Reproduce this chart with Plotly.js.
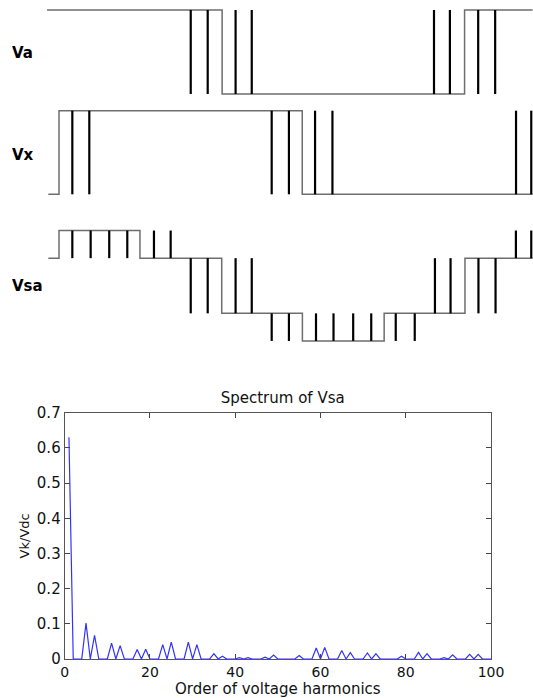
<!DOCTYPE html>
<html>
<head>
<meta charset="utf-8">
<script src="https://cdn.plot.ly/plotly-3.0.1.min.js"></script>
<style>html,body{margin:0;padding:0;background:#fff;}#chart{width:533px;height:698px;}</style>
</head>
<body>
<div id="chart"></div>
<script>
// ---- Switching waveforms (angle in degrees, levels) ----
// Va : two-level, 0 / 1
const vaStepX = [0, 130, 310, 360.5];
const vaStepY = [1, 0, 1, 1];
const vaPulseX = [106.7, 119.3, 140, 152, 287.3, 299.1, 320.1, 332.7];
const vaPulseFrom = [1, 1, 0, 0, 0, 0, 1, 1];
const vaPulseTo = [0, 0, 1, 1, 1, 1, 0, 0];

// Vx : two-level, 0 / 1
const vxStepX = [1, 8.9, 189.5, 360.5];
const vxStepY = [0, 1, 0, 0];
const vxPulseX = [18.8, 31.4, 166.8, 179.6, 199, 211.9, 348.2, 359.5];
const vxPulseFrom = [1, 1, 1, 1, 0, 0, 0, 0];
const vxPulseTo = [0, 0, 0, 0, 1, 1, 1, 1];

// Vsa : levels in units of Vdc/3
const vsaStepX = [1, 8.9, 69, 129.7, 189.6, 250.3, 310.3, 360.5];
const vsaStepY = [1, 2, 1, -1, -2, -1, 1, 1];
const vsaPulseX = [18.8, 32.4, 46.2, 59.6, 79.4, 91.8, 106.7, 119.3, 140, 152,
                   166.8, 179.6, 199.7, 212.7, 227.3, 240.7, 258.9, 273, 288, 299.6,
                   320.3, 333, 348.1, 359.5];
const vsaPulseFrom = [2, 2, 2, 2, 1, 1, 1, 1, -1, -1,
                      -1, -1, -2, -2, -2, -2, -1, -1, -1, -1,
                      1, 1, 1, 1];
const vsaPulseTo = [1, 1, 1, 1, 2, 2, -1, -1, 1, 1,
                    -2, -2, -1, -1, -1, -1, -2, -2, 1, 1,
                    -1, -1, 2, 2];

const waveLabels = ["Va", "Vx", "Vsa"];

// ---- Spectrum of Vsa ----
const harmonicOrder = [
  1,2,3,4,5,6,7,8,9,10,11,12,13,14,15,16,17,18,19,20,
  21,22,23,24,25,26,27,28,29,30,31,32,33,34,35,36,37,38,39,40,
  41,42,43,44,45,46,47,48,49,50,51,52,53,54,55,56,57,58,59,60,
  61,62,63,64,65,66,67,68,69,70,71,72,73,74,75,76,77,78,79,80,
  81,82,83,84,85,86,87,88,89,90,91,92,93,94,95,96,97,98,99,100];
const harmonicAmp = [
  0.63,0,0,0,0.102,0,0.067,0,0,0,0.045,0,0.038,0,0,0,0.027,0,0.028,0,
  0,0,0.041,0,0.048,0,0,0,0.048,0,0.041,0,0,0,0.015,0,0.008,0,0,0,
  0.004,0,0.004,0,0,0,0.005,0,0.011,0,0,0,0.001,0,0.010,0,0,0,0.031,0,
  0.033,0,0,0,0.024,0,0.018,0,0,0,0.017,0,0.015,0,0,0,0.001,0,0.008,0,
  0,0,0.019,0,0.015,0,0,0,0.004,0,0.012,0,0,0,0.013,0,0.013,0,0,0];

const specTitle = "Spectrum of Vsa";
const specXTitle = "Order of voltage harmonics";
const specYTitle = "Vk/Vdc";
const specXTicks = [0, 20, 40, 60, 80, 100];
const specYTicks = [0, 0.1, 0.2, 0.3, 0.4, 0.5, 0.6, 0.7];

// ---- helpers ----
const W = 533, H = 698;
const py = p => 1 - p / H;
function pulses(xs, from, to) {
  const x = [], y = [];
  xs.forEach((v, i) => { x.push(v, v, null); y.push(from[i], to[i], null); });
  return {x, y};
}
const baseLine = {color: '#6e6e6e', width: 1.5};
const pulseLine = {color: '#000000', width: 2.2};

const traces = [];
[[vaStepX, vaStepY, vaPulseX, vaPulseFrom, vaPulseTo, 'y'],
 [vxStepX, vxStepY, vxPulseX, vxPulseFrom, vxPulseTo, 'y2'],
 [vsaStepX, vsaStepY, vsaPulseX, vsaPulseFrom, vsaPulseTo, 'y3']].forEach(w => {
  traces.push({x: w[0], y: w[1], xaxis: 'x', yaxis: w[5], type: 'scatter', mode: 'lines',
               line: Object.assign({shape: 'hv'}, baseLine), hoverinfo: 'skip', showlegend: false});
  const p = pulses(w[2], w[3], w[4]);
  traces.push({x: p.x, y: p.y, xaxis: 'x', yaxis: w[5], type: 'scatter', mode: 'lines',
               line: pulseLine, hoverinfo: 'skip', showlegend: false, connectgaps: false});
});
traces.push({x: harmonicOrder, y: harmonicAmp, xaxis: 'x2', yaxis: 'y4', type: 'scatter',
             mode: 'lines', line: {color: 'rgb(50,50,255)', width: 1.2}, showlegend: false});

const hidden = {visible: false, showgrid: false, zeroline: false, fixedrange: true};
const specFont = {family: 'DejaVu Sans, sans-serif', size: 15, color: '#111'};
const specXFont = {family: 'DejaVu Sans, sans-serif', size: 14, color: '#111'};

const layout = {
  width: W, height: H,
  margin: {l: 0, r: 0, t: 0, b: 0},
  paper_bgcolor: '#fff', plot_bgcolor: 'rgba(0,0,0,0)',
  showlegend: false,
  xaxis: Object.assign({}, hidden, {domain: [0, 1], range: [-34.9, 360.8], anchor: 'y'}),
  yaxis: Object.assign({}, hidden, {domain: [py(104), py(0)], range: [-0.119, 1.119], anchor: 'x'}),
  yaxis2: Object.assign({}, hidden, {domain: [py(205), py(104)], range: [-0.128, 1.080], anchor: 'x'}),
  yaxis3: Object.assign({}, hidden, {domain: [py(355), py(215)], range: [-2.509, 2.563], anchor: 'x'}),
  xaxis2: {
    domain: [64.7 / W, 491 / W], range: [0, 100], anchor: 'y4',
    tickvals: specXTicks, ticktext: specXTicks.map(String),
    ticks: 'inside', ticklen: 5, tickcolor: '#444', showline: true, linecolor: '#555', linewidth: 1,
    mirror: 'ticks', showgrid: false, zeroline: false, tickfont: specXFont,
    title: {text: specXTitle, font: {family: 'DejaVu Sans, sans-serif', size: 15, color: '#111'}, standoff: 2}
  },
  yaxis4: {
    domain: [py(659), py(412.7)], range: [0, 0.7], anchor: 'x2',
    tickvals: specYTicks, ticktext: specYTicks.map(v => v === 0 ? '0' : v.toFixed(1)),
    ticks: 'inside', ticklen: 5, tickcolor: '#444', showline: true, linecolor: '#555', linewidth: 1,
    mirror: 'ticks', showgrid: false, zeroline: false, tickfont: specFont,
    title: {text: specYTitle, font: {family: 'DejaVu Sans, sans-serif', size: 13, color: '#111'}, standoff: 4}
  },
  title: {text: specTitle, font: {family: 'DejaVu Sans, sans-serif', size: 15, color: '#111'},
          x: 282.7 / W, xanchor: 'center', y: py(398), yanchor: 'middle', xref: 'paper', yref: 'paper'},
  annotations: waveLabels.map((t, i) => ({
    text: '<b>' + t + '</b>', xref: 'paper', yref: 'paper', x: 10 / W, xanchor: 'left',
    y: py([52.5, 154.5, 286][i]), yanchor: 'middle', showarrow: false,
    font: {family: 'DejaVu Sans, sans-serif', size: 15, color: '#000'}
  }))
};

Plotly.newPlot('chart', traces, layout, {displayModeBar: false, staticPlot: true});
</script>
</body>
</html>
